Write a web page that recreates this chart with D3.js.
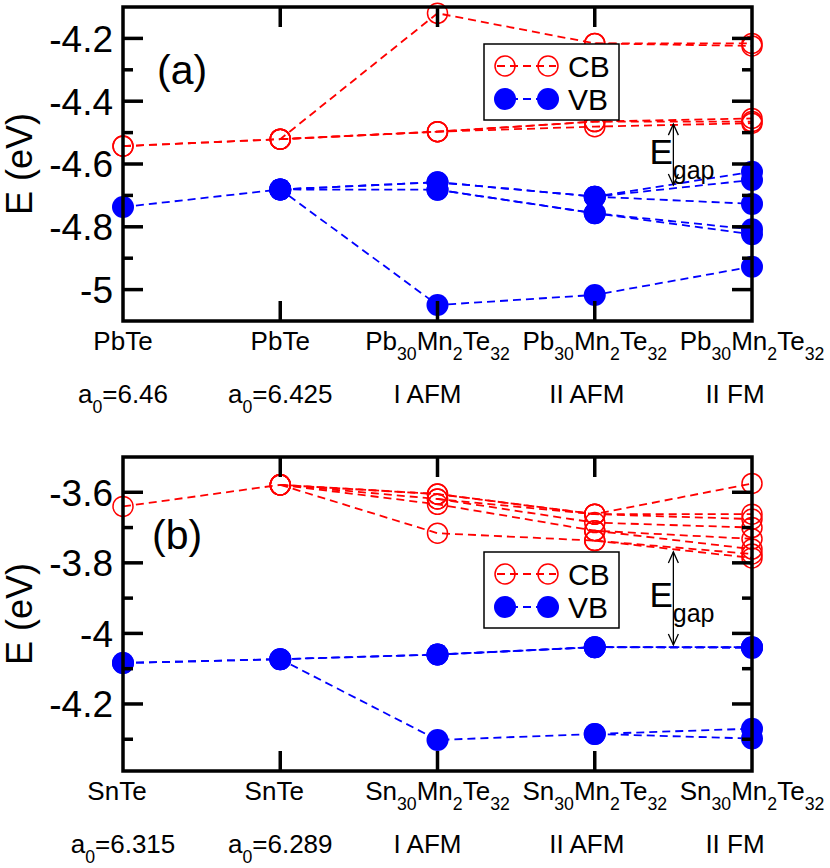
<!DOCTYPE html>
<meta charset="utf-8">
<style>
    body { margin: 0; background: #fff; }
    svg { font-family: "Liberation Sans", Arial, Helvetica, sans-serif; }
    .frame { fill: none; stroke: #000; stroke-width: 3.5; }
    .tick { stroke: #000; stroke-width: 3.5; }
    .band { fill: none; stroke-width: 1.8; stroke-dasharray: 8,5; }
    .legend-box { fill: #fff; stroke: #000; stroke-width: 1.5; }
    .gap-arrow { fill: none; stroke: #000; stroke-width: 1.3; }
</style>

<svg width="830" height="868"></svg>

<script src="https://d3js.org/d3.v7.min.js"></script>

<script>
// x positions of the five structures
var xIndex = [0, 1, 2, 3, 4];

// ---- panel (a): PbTe / Pb30Mn2Te32 ----
var pbRow1 = ["PbTe", "PbTe", "Pb_{30}Mn_{2}Te_{32}", "Pb_{30}Mn_{2}Te_{32}", "Pb_{30}Mn_{2}Te_{32}"];
var pbRow2 = ["a_{0}=6.46", "a_{0}=6.425", "I AFM", "II AFM", "II FM"];
// conduction band levels (eV), one row per level, null = level not shown there
var pbCB = [
    [-4.543, -4.521, -4.120, -4.216, -4.216],
    [null,   null,   null,   -4.216, -4.224],
    [-4.543, -4.521, -4.497, -4.465, -4.455],
    [null,   -4.521, -4.497, -4.465, -4.465],
    [null,   -4.521, -4.497, -4.481, -4.470]
];
// valence band levels (eV)
var pbVB = [
    [-4.737, -4.681, -5.049, -5.017, -4.927],
    [null,   -4.681, -4.658, -4.704, -4.625],
    [null,   -4.681, -4.658, -4.704, -4.651],
    [null,   null,   null,   -4.704, -4.727],
    [null,   -4.681, -4.682, -4.757, -4.808],
    [null,   null,   -4.682, -4.757, -4.824]
];
var pbDomain = [-5.1, -4.1];
var pbGap = [-4.473, -4.667];

// ---- panel (b): SnTe / Sn30Mn2Te32 ----
var snRow1 = ["SnTe", "SnTe", "Sn_{30}Mn_{2}Te_{32}", "Sn_{30}Mn_{2}Te_{32}", "Sn_{30}Mn_{2}Te_{32}"];
var snRow2 = ["a_{0}=6.315", "a_{0}=6.289", "I AFM", "II AFM", "II FM"];
var snCB = [
    [-3.640, -3.579, -3.605, -3.662, -3.575],
    [null,   -3.579, -3.605, -3.662, -3.662],
    [null,   -3.579, -3.619, -3.662, -3.676],
    [null,   null,   -3.619, -3.686, -3.700],
    [null,   -3.579, -3.634, -3.709, -3.732],
    [null,   null,   null,   -3.709, -3.761],
    [null,   -3.579, -3.716, -3.737, -3.775],
    [null,   null,   null,   -3.737, -3.786]
];
var snVB = [
    [-4.084, -4.073, -4.302, -4.285, -4.270],
    [null,   null,   null,   -4.285, -4.298],
    [-4.084, -4.073, -4.060, -4.039, -4.039],
    [null,   -4.073, -4.060, -4.039, -4.041],
    [null,   null,   -4.060, -4.039, -4.039]
];
var snDomain = [-4.39, -3.5];
var snGap = [-3.769, -4.033];

var legendNames = ["CB", "VB"];

var panels = [
    { tag: "(a)", row1: pbRow1, row2: pbRow2, cb: pbCB, vb: pbVB, domain: pbDomain, gap: pbGap,
      top: 7, bottom: 321, legendTop: 44, tagX: 157, tagY: 84,
      row1dx: [0, 0, 0, 0, 0], row2dx: [0, 0, -10, -8, -17] },
    { tag: "(b)", row1: snRow1, row2: snRow2, cb: snCB, vb: snVB, domain: snDomain, gap: snGap,
      top: 457, bottom: 771, legendTop: 552, tagX: 152, tagY: 549,
      row1dx: [-6, -6, 0, 0, 0], row2dx: [0, 0, -10, -8, -17] }
];

var red = "#ff0000", blue = "#0000ff";
var left = 123, right = 752;

var svg = d3.select("svg");

var x = d3.scaleLinear().domain([0, 4]).range([left, right]);

// text with _{...} subscripts
function richText(sel, str, size) {
    var parts = str.split(/(_\{[^}]*\})/).filter(function(s) { return s.length; });
    var shift = 0;
    parts.forEach(function(p) {
        var sub = p.charAt(0) === "_";
        var want = sub ? size * 0.4 : 0;
        sel.append("tspan")
            .attr("font-size", sub ? size * 0.68 : size)
            .attr("dy", want - shift)
            .text(sub ? p.slice(2, -1) : p);
        shift = want;
    });
}

panels.forEach(function(p) {
    var y = d3.scaleLinear().domain(p.domain).range([p.bottom, p.top]);
    var g = svg.append("g");

    var line = d3.line()
        .defined(function(d) { return d[1] != null; })
        .x(function(d) { return x(d[0]); })
        .y(function(d) { return y(d[1]); });

    function levels(rows) {
        return rows.map(function(r) { return r.map(function(v, i) { return [xIndex[i], v]; }); });
    }
    var cbRows = levels(p.cb), vbRows = levels(p.vb);

    g.selectAll(".cb-line").data(cbRows).enter().append("path")
        .attr("class", "band").attr("stroke", red).attr("d", line);
    g.selectAll(".vb-line").data(vbRows).enter().append("path")
        .attr("class", "band").attr("stroke", blue).attr("d", line);

    var cbPts = [].concat.apply([], cbRows).filter(function(d) { return d[1] != null; });
    var vbPts = [].concat.apply([], vbRows).filter(function(d) { return d[1] != null; });

    g.selectAll(".cb-pt").data(cbPts).enter().append("circle")
        .attr("cx", function(d) { return x(d[0]); })
        .attr("cy", function(d) { return y(d[1]); })
        .attr("r", 10).attr("fill", "none").attr("stroke", red).attr("stroke-width", 1.5);
    g.selectAll(".vb-pt").data(vbPts).enter().append("circle")
        .attr("cx", function(d) { return x(d[0]); })
        .attr("cy", function(d) { return y(d[1]); })
        .attr("r", 11).attr("fill", blue);

    // frame
    g.append("rect").attr("class", "frame")
        .attr("x", left).attr("y", p.top)
        .attr("width", right - left).attr("height", p.bottom - p.top);

    // y ticks, both sides, pointing inward
    var yt = y.ticks(10).filter(function(v) {
        return Math.abs(y(v) - p.top) > 2 && Math.abs(y(v) - p.bottom) > 2;
    });
    yt.forEach(function(v) {
        var major = Math.round(v * 10) % 2 === 0;
        var len = major ? 20 : 10;
        g.append("line").attr("class", "tick")
            .attr("x1", left).attr("x2", left + len).attr("y1", y(v)).attr("y2", y(v));
        g.append("line").attr("class", "tick")
            .attr("x1", right).attr("x2", right - len).attr("y1", y(v)).attr("y2", y(v));
        if (major) {
            g.append("text")
                .attr("x", left - 10).attr("y", y(v)).attr("dy", "0.36em")
                .attr("text-anchor", "end").attr("font-size", 37)
                .text(String(+v.toFixed(1)));
        }
    });

    // x ticks top and bottom
    [1, 2, 3].forEach(function(i) {
        g.append("line").attr("class", "tick")
            .attr("x1", x(i)).attr("x2", x(i)).attr("y1", p.top).attr("y2", p.top + 20);
        g.append("line").attr("class", "tick")
            .attr("x1", x(i)).attr("x2", x(i)).attr("y1", p.bottom).attr("y2", p.bottom - 20);
    });

    // x labels, two rows
    xIndex.forEach(function(i) {
        var t1 = g.append("text").attr("text-anchor", "middle")
            .attr("x", x(i) + p.row1dx[i]).attr("y", p.bottom + 29).attr("font-size", 26);
        richText(t1, p.row1[i], 26);
        var t2 = g.append("text").attr("text-anchor", "middle")
            .attr("x", x(i) + p.row2dx[i]).attr("y", p.bottom + 82).attr("font-size", 26);
        richText(t2, p.row2[i], 26);
    });

    // axis title
    g.append("text")
        .attr("transform", "translate(32," + ((p.top + p.bottom) / 2) + ") rotate(-90)")
        .attr("text-anchor", "middle").attr("font-size", 36)
        .text("E (eV)");

    // panel tag
    g.append("text").attr("x", p.tagX).attr("y", p.tagY).attr("font-size", 41).text(p.tag);

    // legend
    var lg = g.append("g").attr("transform", "translate(484," + p.legendTop + ")");
    lg.append("rect").attr("class", "legend-box").attr("width", 135).attr("height", 76);
    legendNames.forEach(function(name, k) {
        var ly = 22 + k * 33;
        var col = k === 0 ? red : blue;
        lg.append("line").attr("class", "band").attr("stroke", col)
            .attr("stroke-dasharray", "9,5")
            .attr("x1", 13).attr("x2", 72).attr("y1", ly).attr("y2", ly);
        [21, 64].forEach(function(cx) {
            if (k === 0) {
                lg.append("circle").attr("cx", cx).attr("cy", ly).attr("r", 10)
                    .attr("fill", "none").attr("stroke", red).attr("stroke-width", 1.5);
            } else {
                lg.append("circle").attr("cx", cx).attr("cy", ly).attr("r", 11).attr("fill", blue);
            }
        });
        lg.append("text").attr("x", 84).attr("y", ly + 11).attr("font-size", 30).text(name);
    });

    // E_gap arrow
    var ax = x(3.5), y1 = y(p.gap[0]), y2 = y(p.gap[1]);
    g.append("line").attr("class", "gap-arrow").attr("x1", ax).attr("x2", ax).attr("y1", y1).attr("y2", y2);
    g.append("path").attr("class", "gap-arrow")
        .attr("d", "M" + (ax - 5) + "," + (y1 + 11) + "L" + ax + "," + y1 + "L" + (ax + 5) + "," + (y1 + 11));
    g.append("path").attr("class", "gap-arrow")
        .attr("d", "M" + (ax - 5) + "," + (y2 - 11) + "L" + ax + "," + y2 + "L" + (ax + 5) + "," + (y2 - 11));
    var et = g.append("text").attr("x", ax - 24).attr("y", (y1 + y2) / 2 + 9).attr("font-size", 35);
    et.append("tspan").text("E");
    et.append("tspan").attr("font-size", 25).attr("dy", 15).text("gap");
});
</script>
